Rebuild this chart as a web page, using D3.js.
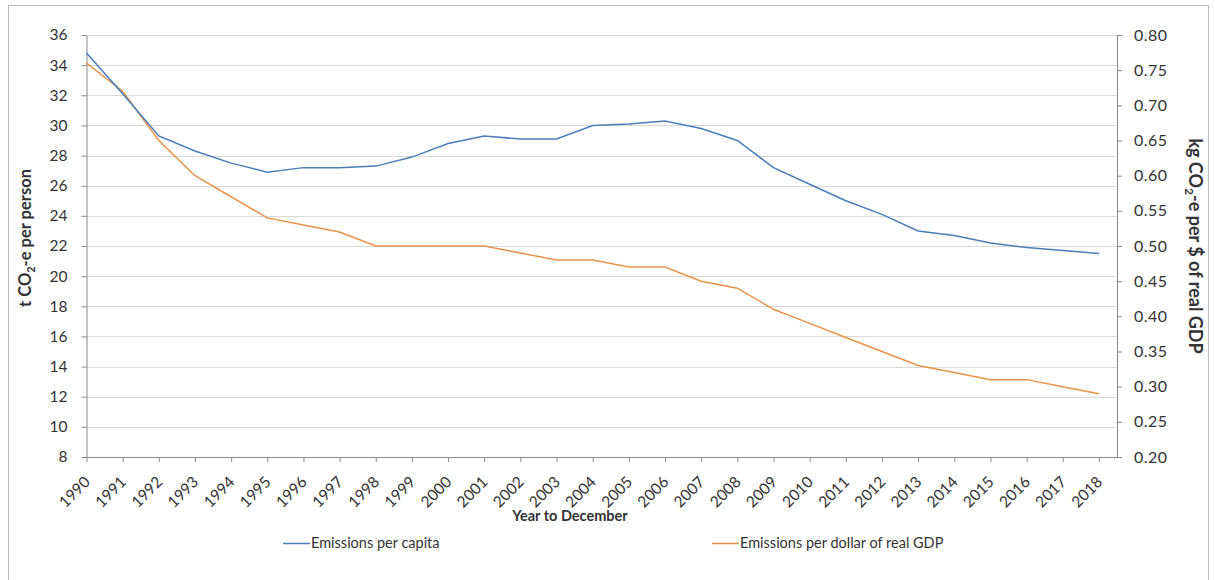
<!DOCTYPE html>
<html>
<head>
    <meta charset="utf-8">
    <title>Emissions per capita and per dollar of real GDP</title>
    <script type="text/javascript" src="https://cdn.jsdelivr.net/npm/d3@7"></script>
    <style type="text/css">
        body { margin: 0; background: #fff; }
        svg text { font-family: Lato, "Noto Sans", sans-serif; fill: #333; }
        .grid line { stroke: #d9d9d9; }
        .axis path, .axis line { stroke: #888; }
    </style>
</head>
<body>
    <script type="text/javascript">
        var w = 1215;
        var h = 580;

        var years = [1990, 1991, 1992, 1993, 1994, 1995, 1996, 1997, 1998, 1999,
                     2000, 2001, 2002, 2003, 2004, 2005, 2006, 2007, 2008, 2009,
                     2010, 2011, 2012, 2013, 2014, 2015, 2016, 2017, 2018];
        // t CO2-e per person (left axis)
        var perCapita = [34.8, 32.1, 29.3, 28.3, 27.5, 26.9, 27.2, 27.2, 27.3, 27.9,
                         28.8, 29.3, 29.1, 29.1, 30.0, 30.1, 30.3, 29.8, 29.0, 27.2,
                         26.1, 25.0, 24.1, 23.0, 22.7, 22.2, 21.9, 21.7, 21.5];
        // kg CO2-e per $ of real GDP (right axis)
        var perGdp = [0.76, 0.72, 0.65, 0.60, 0.57, 0.54, 0.53, 0.52, 0.50, 0.50,
                      0.50, 0.50, 0.49, 0.48, 0.48, 0.47, 0.47, 0.45, 0.44, 0.41,
                      0.39, 0.37, 0.35, 0.33, 0.32, 0.31, 0.31, 0.30, 0.29];
        var leftTicks = [8, 10, 12, 14, 16, 18, 20, 22, 24, 26, 28, 30, 32, 34, 36];
        var rightTicks = [0.20, 0.25, 0.30, 0.35, 0.40, 0.45, 0.50, 0.55, 0.60, 0.65, 0.70, 0.75, 0.80];
        var seriesNames = ["Emissions per capita", "Emissions per dollar of real GDP"];
        var colors = ["#4a7ebb", "#e8934a"];

        // plot area edges
        var pLeft = 86.5, pRight = 1117, pTop = 35, pBottom = 457;

        var xScale = d3.scaleLinear().domain([1990, 2018.5]).range([pLeft, pRight]);
        var yLeft = d3.scaleLinear().domain([8, 36]).range([pBottom, pTop]);
        var yRight = d3.scaleLinear().domain([0.2, 0.8]).range([pBottom, pTop]);

        var svg = d3.select("body").append("svg")
            .attr("width", w).attr("height", h);

        // chart border
        svg.append("rect").attr("x", 8.5).attr("y", 5.5)
            .attr("width", 1200).attr("height", 580)
            .attr("fill", "none").attr("stroke", "#bbb");

        // gridlines
        svg.append("g").attr("class", "grid")
            .selectAll("line").data(leftTicks.slice(1)).enter().append("line")
            .attr("x1", pLeft).attr("x2", pRight)
            .attr("y1", d => Math.round(yLeft(d)) + 0.5)
            .attr("y2", d => Math.round(yLeft(d)) + 0.5);

        var xAxis = d3.axisBottom(xScale).tickValues(years).tickFormat(d3.format("d"))
            .tickSizeInner(5).tickSizeOuter(0);
        var gx = svg.append("g").attr("class", "axis")
            .attr("transform", "translate(0," + pBottom + ")").call(xAxis);
        gx.select(".domain").attr("d", "M" + pLeft + ",0.5H" + pRight);
        gx.selectAll("text")
            .attr("font-size", 15.5)
            .attr("text-anchor", "end")
            .attr("dx", 0).attr("dy", 0).attr("y", 0)
            .attr("transform", "translate(4,26) rotate(-45)");

        var gl = svg.append("g").attr("class", "axis")
            .attr("transform", "translate(" + pLeft + ",0)")
            .call(d3.axisLeft(yLeft).tickValues(leftTicks).tickSizeInner(5).tickSizeOuter(0).tickPadding(14));
        gl.selectAll("text").attr("font-size", 15.5);

        var gr = svg.append("g").attr("class", "axis")
            .attr("transform", "translate(" + pRight + ",0)")
            .call(d3.axisRight(yRight).tickValues(rightTicks).tickFormat(d3.format(".2f"))
                .tickSizeInner(5).tickSizeOuter(0).tickPadding(12));
        gr.selectAll("text").attr("font-size", 16).attr("letter-spacing", 0.5);

        // lines
        var line1 = d3.line().x((d, i) => xScale(years[i])).y(d => yLeft(d));
        var line2 = d3.line().x((d, i) => xScale(years[i])).y(d => yRight(d));
        svg.append("path").datum(perGdp).attr("d", line2)
            .attr("fill", "none").attr("stroke", colors[1]).attr("stroke-width", 1.5);
        svg.append("path").datum(perCapita).attr("d", line1)
            .attr("fill", "none").attr("stroke", colors[0]).attr("stroke-width", 1.5);

        // axis titles
        svg.append("text").attr("transform", "translate(31,238) rotate(-90)")
            .attr("text-anchor", "middle").attr("font-size", 16.5).attr("font-weight", "bold")
            .html('t CO<tspan font-size="11" dy="4">2</tspan><tspan dy="-4">-e per person</tspan>');
        svg.append("text").attr("transform", "translate(1189,246) rotate(90)")
            .attr("text-anchor", "middle").attr("font-size", 18).attr("font-weight", "bold")
            .html('kg CO<tspan font-size="12" dy="4">2</tspan><tspan dy="-4">-e per $ of real GDP</tspan>');
        svg.append("text").attr("x", 570).attr("y", 521)
            .attr("text-anchor", "middle").attr("font-size", 14.5).attr("font-weight", "bold")
            .text("Year to December");

        // legend
        var legX = [283, 712];
        var leg = svg.selectAll(".leg").data(seriesNames).enter().append("g")
            .attr("transform", (d, i) => "translate(" + legX[i] + ",543)");
        leg.append("line").attr("x1", 0).attr("x2", 27).attr("y1", 0.5).attr("y2", 0.5)
            .attr("stroke", (d, i) => colors[i]).attr("stroke-width", 1.5);
        leg.append("text").attr("x", 28).attr("y", 5).attr("font-size", 14.5).text(d => d);
    </script>
</body>
</html>
